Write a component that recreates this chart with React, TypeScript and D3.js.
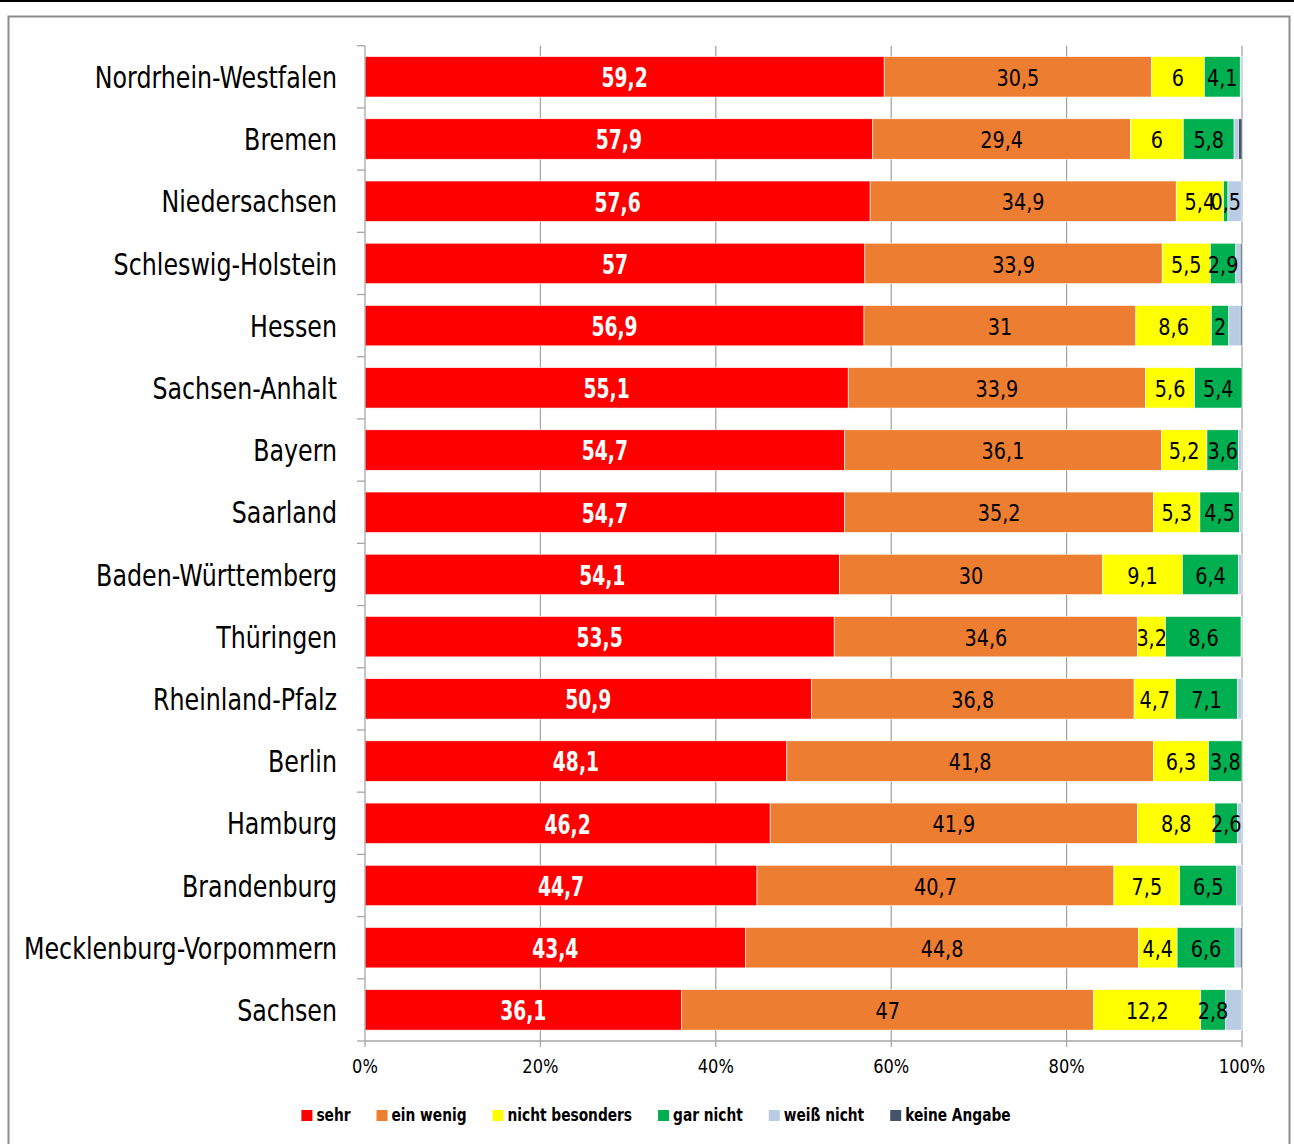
import React, { useEffect, useRef } from "react";
import * as d3 from "d3";

const categories = [
  "Nordrhein-Westfalen", "Bremen", "Niedersachsen", "Schleswig-Holstein", "Hessen",
  "Sachsen-Anhalt", "Bayern", "Saarland", "Baden-Württemberg", "Thüringen",
  "Rheinland-Pfalz", "Berlin", "Hamburg", "Brandenburg", "Mecklenburg-Vorpommern", "Sachsen",
];
const sehr = [59.2, 57.9, 57.6, 57, 56.9, 55.1, 54.7, 54.7, 54.1, 53.5, 50.9, 48.1, 46.2, 44.7, 43.4, 36.1];
const einWenig = [30.5, 29.4, 34.9, 33.9, 31, 33.9, 36.1, 35.2, 30, 34.6, 36.8, 41.8, 41.9, 40.7, 44.8, 47];
const nichtBesonders = [6, 6, 5.4, 5.5, 8.6, 5.6, 5.2, 5.3, 9.1, 3.2, 4.7, 6.3, 8.8, 7.5, 4.4, 12.2];
const garNicht = [4.1, 5.8, 0.5, 2.9, 2, 5.4, 3.6, 4.5, 6.4, 8.6, 7.1, 3.8, 2.6, 6.5, 6.6, 2.8];
const weissNicht = [0.2, 0.5, 1.6, 0.5, 1.3, 0, 0.4, 0.3, 0.4, 0.1, 0.5, 0, 0.5, 0.6, 0.6, 1.9];
const keineAngabe = [0, 0.4, 0, 0.2, 0.2, 0, 0, 0, 0, 0, 0, 0, 0, 0, 0.2, 0];

const seriesNames = ["sehr", "ein wenig", "nicht besonders", "gar nicht", "weiß nicht", "keine Angabe"];
const seriesValues = [sehr, einWenig, nichtBesonders, garNicht, weissNicht, keineAngabe];
const seriesColors = ["#FF0000", "#ED7D31", "#FFFF00", "#00B050", "#B8CCE4", "#44546A"];
const labeledSeries = [true, true, true, true, false, false];
const xTicks = [0, 0.2, 0.4, 0.6, 0.8, 1];

const FONT = "'Liberation Sans Narrow', 'DejaVu Sans Condensed', 'Arial Narrow', sans-serif";

export default function App() {
  const ref = useRef<SVGSVGElement>(null);

  useEffect(() => {
    const svg = d3.select(ref.current);
    svg.selectAll("*").remove();

    const W = 1294, H = 1144;
    const left = 365, right = 1242, top = 45.7, bottom = 1041;

    // top black line and frame
    svg.append("line").attr("x1", 0).attr("x2", W).attr("y1", 1).attr("y2", 1)
      .attr("stroke", "#000").attr("stroke-width", 2);
    svg.append("rect").attr("x", 8.5).attr("y", 16.5).attr("width", 1281).attr("height", H + 10)
      .attr("fill", "#fff").attr("stroke", "#8c8c8c").attr("stroke-width", 2);

    const rows = categories.map((c, i) => {
      const r: any = { cat: c };
      seriesNames.forEach((s, k) => (r[s] = seriesValues[k][i]));
      return r;
    });

    const stack = d3.stack<any>().keys(seriesNames).offset(d3.stackOffsetExpand);
    const layers = stack(rows);

    const x = d3.scaleLinear().domain([0, 1]).range([left, right]);
    const y = d3.scaleBand<string>().domain(categories).range([top, bottom])
      .paddingInner(0.35).paddingOuter(0.175);

    // gridlines
    const g = svg.append("g");
    xTicks.filter((t) => t > 0).forEach((t) => {
      g.append("line").attr("x1", x(t)).attr("x2", x(t)).attr("y1", top).attr("y2", bottom + 6)
        .attr("stroke", "#a6a6a6").attr("stroke-width", 1.3);
    });

    // bars
    layers.forEach((layer, k) => {
      svg.append("g").selectAll("rect").data(layer).join("rect")
        .attr("x", (d) => x(d[0]))
        .attr("width", (d) => Math.max(0, x(d[1]) - x(d[0])))
        .attr("y", (d) => y(d.data.cat)!)
        .attr("height", y.bandwidth())
        .attr("fill", seriesColors[k])
        .attr("stroke", "#fff").attr("stroke-width", 0.6);
    });

    // axes
    const ax = svg.append("g");
    ax.append("line").attr("x1", left).attr("x2", left).attr("y1", top).attr("y2", bottom)
      .attr("stroke", "#a6a6a6").attr("stroke-width", 1.3);
    ax.append("line").attr("x1", left).attr("x2", right).attr("y1", bottom).attr("y2", bottom)
      .attr("stroke", "#a6a6a6").attr("stroke-width", 1.3);
    const step = y.step();
    const off = (step - y.bandwidth()) / 2;
    const bounds = categories.map((c) => y(c)! - off).concat([y(categories[categories.length - 1])! - off + step]);
    bounds.forEach((b) => {
      ax.append("line").attr("x1", left - 8).attr("x2", left).attr("y1", b).attr("y2", b)
        .attr("stroke", "#a6a6a6").attr("stroke-width", 1.3);
    });
    ax.append("line").attr("x1", left).attr("x2", left).attr("y1", bottom).attr("y2", bottom + 6)
      .attr("stroke", "#a6a6a6").attr("stroke-width", 1.3);

    // category labels
    svg.append("g").selectAll("text").data(categories).join("text")
      .attr("transform", (c) => `translate(337,${y(c)! + y.bandwidth() / 2}) scale(0.852,1)`)
      .attr("dy", "0.36em").attr("text-anchor", "end")
      .attr("font-family", FONT).attr("font-size", 31).attr("fill", "#000")
      .text((c) => c);

    // x tick labels
    svg.append("g").selectAll("text").data(xTicks).join("text")
      .attr("transform", (t) => `translate(${x(t)},1073) scale(0.95,1)`)
      .attr("text-anchor", "middle")
      .attr("font-family", FONT).attr("font-size", 19).attr("fill", "#000")
      .text((t) => d3.format(".0%")(t));

    // value labels
    layers.forEach((layer, k) => {
      if (!labeledSeries[k]) return;
      const white = k === 0;
      svg.append("g").selectAll("text").data(layer).join("text")
        .attr("transform", (d) =>
          `translate(${(x(d[0]) + x(d[1])) / 2},${y(d.data.cat)! + y.bandwidth() / 2 + 1}) scale(${white ? 0.8 : 0.95},1)`)
        .attr("dy", "0.36em").attr("text-anchor", "middle")
        .attr("font-family", FONT).attr("font-size", white ? 26 : 22.5)
        .attr("font-weight", white ? "bold" : "normal")
        .attr("fill", white ? "#fff" : "#000")
        .text((d) => String(seriesValues[k][categories.indexOf(d.data.cat)]).replace(".", ","));
    });

    // legend
    const lg = svg.append("g");
    const sx = 0.85;
    const items = seriesNames.map((name, k) => {
      const gi = lg.append("g");
      gi.append("rect").attr("x", 0).attr("y", -10).attr("width", 11).attr("height", 11)
        .attr("fill", seriesColors[k]);
      const t = gi.append("text").attr("transform", `translate(15,1) scale(${sx},1)`)
        .attr("font-family", FONT).attr("font-size", 18).attr("font-weight", "bold").attr("fill", "#000")
        .text(name);
      const w = 15 + sx * (t.node() as SVGTextElement).getComputedTextLength();
      return { gi, w };
    });
    const gap = 26;
    const total = d3.sum(items, (d) => d.w) + gap * (items.length - 1);
    let cx = 656 - total / 2;
    items.forEach((it) => {
      it.gi.attr("transform", `translate(${cx},1120)`);
      cx += it.w + gap;
    });
  }, []);

  return (
    <svg ref={ref} width={1294} height={1144}
      style={{ position: "absolute", left: 0, top: 0, display: "block", background: "#fff" }} />
  );
}
